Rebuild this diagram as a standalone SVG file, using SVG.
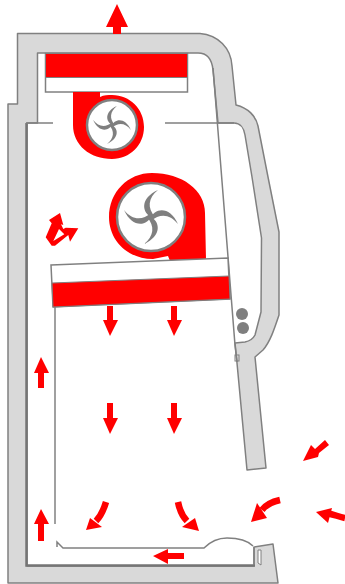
<svg xmlns="http://www.w3.org/2000/svg" width="345" height="584" viewBox="0 0 345 584">
<style>
.g{fill:#d9d9d9;stroke:#808080;stroke-width:1.5;stroke-linejoin:round}
.l{fill:none;stroke:#808080;stroke-width:1.5}
.t{fill:none;stroke:#757575;stroke-width:2.5}
.r{fill:#f00;stroke:#808080;stroke-width:1}
.w{fill:#fff;stroke:#808080;stroke-width:1.5}
.a{fill:#f00}
.s{fill:none;stroke:#f00;stroke-width:6.5}
.b{fill:#7f7f7f}
</style>
<defs>
<path id="blade" d="M2 1C-10 -4 -11 -19 7 -27C-3 -19 -4 -9 4 0Z"/>
<g id="fan" class="b">
<use href="#blade"/>
<use href="#blade" transform="rotate(90)"/>
<use href="#blade" transform="rotate(180)"/>
<use href="#blade" transform="rotate(270)"/>
</g>
</defs>
<rect width="345" height="584" fill="#fff"/>
<g id="casing">
<path class="g" d="M17.500 33.500H200C218 35 231 48 232 66L236 105C248 108 256 116 258 126L268 177L279 232L279 315C274 330 270 342 263 350L255 357L266 468L247 470L237 363L235 343L245 342C250 341 253 339 255 335L261 312L261.500 238L252 177L245 135C244 128 240 123 234 123L218 123L213 70C212 60 208 53 198 53H37.500V123H27V566H254V547L273 544L278 583H8V104H17.500Z"/>
<path class="t" d="M26.500 123V565.500H255"/>
<path class="l" d="M26 123H53M165 123H234"/>
<path class="l" d="M213 68L235 345L237 362"/>
<path class="l" d="M55 307V524"/>
<rect x="235" y="355" width="4" height="6" fill="none" stroke="#808080"/>
<circle class="b" cx="242" cy="314" r="6"/>
<circle class="b" cx="243" cy="328" r="6"/>
</g>
<g id="top-filter">
<rect x="45.500" y="53.500" width="142" height="38.500" fill="#fff" stroke="#808080" stroke-width="1.500"/>
<rect x="45.500" y="53.500" width="142" height="24" class="r"/>
</g>
<g id="blower-top">
<path class="a" d="M73 92H100V97C104 95 108 95 112 95C130 95 144 109 144 127C144 145 130 159 112 159C90 159 73 145 73 125Z"/>
<circle cx="112" cy="125" r="25" fill="#fff" stroke="#808080" stroke-width="2.500"/>
<use href="#fan" transform="translate(112 125) scale(.7)"/>
</g>
<g id="blower-main">
<path class="a" d="M153 259C127 259 109 240 109 217C109 192 128 173 152 173C182 173 205 190 205 213L206 259L170 261L168 256Z"/>
<circle cx="151" cy="217" r="34" fill="#fff" stroke="#808080" stroke-width="2.500"/>
<use href="#fan" transform="translate(151 217)"/>
</g>
<g id="main-filter">
<path class="w" d="M51 265L228 258L230 299L53 307Z"/>
<path class="r" d="M52 283L229 276L230 299L53 307Z"/>
</g>
<g id="work-surface">
<path class="l" d="M57 547V542L63 548H204C210 542 218 538 227 538C238 538 248 541 253 546"/>
<path class="l" d="M254 547V565"/>
<path fill="#fff" stroke="#808080" d="M258 550V563L261 565V550Z"/>
</g>
<g id="arrows">
<polygon class="a" points="117,4 128,27 121,27 121,34 113,34 113,27 106,27"/>
<polygon class="a" points="107,306 113,306 113,320 118,320 110,336 103,320 107,320"/>
<polygon class="a" points="171,306 177,306 177,320 182,320 174,336 167,320 171,320"/>
<polygon class="a" points="107,403 113,403 113,418 118,418 110,434 103,418 107,418"/>
<polygon class="a" points="171,403 177,403 177,418 182,418 174,434 167,418 171,418"/>
<polygon class="a" points="41,357 49,373 44,373 44,388 38,388 38,373 34,373"/>
<polygon class="a" points="41,509 49,524 44,524 44,541 38,541 38,524 34,524"/>
<polygon class="a" points="153,556 168,549 168,553 184,553 184,559 168,559 168,564"/>
<polygon class="a" points="303,461 311,445 315,449 325,440 329,445 319,453 318,457"/>
<path id="double-arrow" class="a" fill-rule="evenodd" d="M60 213L63.300 225L61 224.300L63.300 229L65.700 227.700L78.300 228.300L70 241.700L68.300 235L55 245.700H51.700L45.700 237.300L51.700 223.300L49 220ZM59 229L53.300 241L64.300 234.300Z"/>
<path class="s" d="M106 502C103 512 100 517 96 521"/><polygon class="a" points="86,530 90,518 102,527"/>
<path class="s" d="M178 502C180 512 183 517 187 521"/><polygon class="a" points="199,531 195,518 182,527"/>
<path class="s" d="M280 500C271 502 265 506 262 510"/><polygon class="a" points="251,522 257,503 267,518"/>
<path class="s" d="M345 518C340 517 335 515 327 513"/><polygon class="a" points="316,512 332,508 328,523"/>
</g>
</svg>
